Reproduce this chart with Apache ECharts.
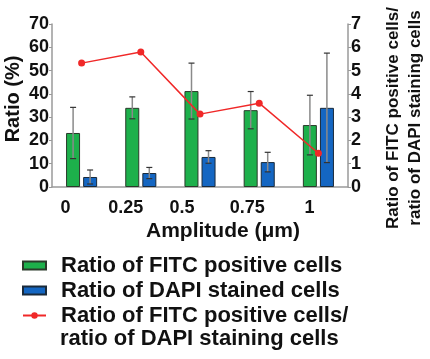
<!DOCTYPE html>
<html style="height: 100%">
<head>
  <meta charset="utf-8">
  <script src="https://cdn.jsdelivr.net/npm/echarts@6/dist/echarts.min.js"></script>
</head>
<body style="height: 100%; width: 100%; margin: 0; background: #fff">
<div id="chart" style="width: 430px; height: 359px"></div>
<script>
var amplitudes = ['0', '0.25', '0.5', '0.75', '1'];
var fitcRatio = [23.2, 34, 41.2, 33, 26.6];
var fitcErr = [11, 4.7, 12, 8, 12.8];
var dapiRatio = [4.3, 6, 12.9, 10.7, 34];
var dapiErr = [3, 2.4, 2.7, 4.2, 23.5];
var fitcOverDapi = [5.32, 5.8, 3.13, 3.6, 1.45];

var FONT = 'Liberation Sans';
// label nudges so tick text sits a bit left of the bar pairs like the original
var labelShift = [32, 30, 36, 24, 18];

function errorSeries(vals, errs, dx) {
  return {
    type: 'custom',
    z: 5,
    silent: true,
    data: vals.map(function (v, i) { return [i, v - errs[i], v + errs[i]]; }),
    renderItem: function (params, api) {
      var lo = api.coord([api.value(0), api.value(1)]);
      var hi = api.coord([api.value(0), api.value(2)]);
      var x = lo[0] + dx;
      return {
        type: 'group',
        children: [
          { type: 'line', shape: { x1: x, y1: hi[1], x2: x, y2: lo[1] },
            style: { stroke: '#8a8a8a', lineWidth: 1.5 } },
          { type: 'line', shape: { x1: x - 3, y1: hi[1], x2: x + 3, y2: hi[1] },
            style: { stroke: '#333', lineWidth: 1.2 } },
          { type: 'line', shape: { x1: x - 3, y1: lo[1], x2: x + 3, y2: lo[1] },
            style: { stroke: '#333', lineWidth: 1.2 } }
        ]
      };
    }
  };
}

var rich = {};
labelShift.forEach(function (p, i) {
  rich['l' + i] = { fontFamily: FONT, fontWeight: 'bold', fontSize: 18, color: '#111', padding: [0, p, 0, 0] };
});

var chart = echarts.init(document.getElementById('chart'));
var option = {
  animation: false,
  textStyle: { fontFamily: FONT },
  grid: { left: 52, right: 82, top: 24, bottom: 172, outerBoundsMode: 'none' },
  legend: {
    orient: 'vertical',
    left: 17,
    top: 248,
    itemGap: 0,
    itemWidth: 23,
    itemHeight: 8,
    textStyle: { fontFamily: FONT, fontWeight: 'bold', fontSize: 22, color: '#111', lineHeight: 25, padding: [0, 0, 0, 10] },
    data: [
      { name: 'Ratio of FITC positive cells', icon: 'rect' },
      { name: 'Ratio of DAPI stained cells', icon: 'rect' },
      { name: 'Ratio of FITC positive cells/' }
    ]
  },
  graphic: [
    { type: 'text', left: 60, top: 328,
      style: { text: 'ratio of DAPI staining cells', font: 'bold 22px ' + FONT, fill: '#111' } },
    { type: 'text', x: 223, y: 231,
      style: { text: 'Amplitude (\u03bcm)', font: 'bold 21px ' + FONT, fill: '#111', textAlign: 'center', textVerticalAlign: 'middle' } },
    { type: 'text', x: 13, y: 99, rotation: Math.PI / 2,
      style: { text: 'Ratio (%)', font: 'bold 20px ' + FONT, fill: '#111', textAlign: 'center', textVerticalAlign: 'middle' } },
    { type: 'text', x: 404, y: 118, rotation: Math.PI / 2,
      style: { text: 'Ratio of FITC positive cells/\nratio of DAPI staining cells', font: 'bold 17px ' + FONT,
               lineHeight: 22, fill: '#111', textAlign: 'center', textVerticalAlign: 'middle' } }
  ],
  xAxis: {
    type: 'category',
    data: amplitudes,
    axisLine: { lineStyle: { color: '#9a9a9a', width: 1.5 } },
    axisTick: { show: false },
    axisLabel: {
      margin: 12,
      formatter: function (v, i) { return '{l' + i + '|' + v + '}'; },
      rich: rich
    }
  },
  yAxis: [
    {
      type: 'value', min: 0, max: 70, interval: 10,
      axisLine: { show: true, lineStyle: { color: '#9a9a9a', width: 1.5 } },
      axisTick: { show: true, length: 3, lineStyle: { color: '#9a9a9a' } },
      splitLine: { show: false },
      axisLabel: { margin: 3, fontFamily: FONT, fontWeight: 'bold', fontSize: 18, color: '#111' }
    },
    {
      type: 'value', min: 0, max: 7, interval: 1, position: 'right',
      axisLine: { show: true, lineStyle: { color: '#9a9a9a', width: 1.5 } },
      axisTick: { show: true, length: 3, lineStyle: { color: '#9a9a9a' } },
      splitLine: { show: false },
      axisLabel: { margin: 3, fontFamily: FONT, fontWeight: 'bold', fontSize: 18, color: '#111' }
    }
  ],
  series: [
    {
      name: 'Ratio of FITC positive cells', type: 'bar', barWidth: 14, barGap: '22%',
      itemStyle: { color: '#1db04b', borderColor: '#2a3a2a', borderWidth: 1 },
      data: fitcRatio
    },
    {
      name: 'Ratio of DAPI stained cells', type: 'bar', barWidth: 14,
      itemStyle: { color: '#1466c2', borderColor: '#1a2a3a', borderWidth: 1 },
      data: dapiRatio
    },
    errorSeries(fitcRatio, fitcErr, -8.5),
    errorSeries(dapiRatio, dapiErr, 8.5),
    {
      name: 'Ratio of FITC positive cells/', type: 'line', yAxisIndex: 1, z: 6,
      symbol: 'circle', symbolSize: 7,
      lineStyle: { color: '#f02828', width: 1.5 },
      itemStyle: { color: '#f02828' },
      data: fitcOverDapi
    }
  ]
};
chart.setOption(option);
</script>
</body>
</html>
